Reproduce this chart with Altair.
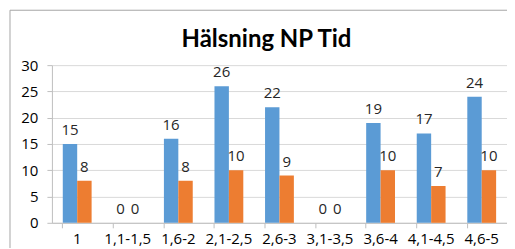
import altair as alt
import pandas as pd

categories = ["1", "1,1-1,5", "1,6-2", "2,1-2,5", "2,6-3", "3,1-3,5", "3,6-4", "4,1-4,5", "4,6-5"]
series_a = [15, 0, 16, 26, 22, 0, 19, 17, 24]
series_b = [8, 0, 8, 10, 9, 0, 10, 7, 10]
y_ticks = [0, 5, 10, 15, 20, 25, 30]
title_text = "Hälsning NP Tid"

rows = []
for c, a, b in zip(categories, series_a, series_b):
    rows.append({"cat": c, "series": "A", "value": a})
    rows.append({"cat": c, "series": "B", "value": b})
df = pd.DataFrame(rows)

x_enc = alt.X("cat:N", sort=categories, title=None,
              scale=alt.Scale(paddingInner=0.43, paddingOuter=0.215),
              axis=alt.Axis(labelAngle=0, labelFont="Open Sans", labelFontSize=15,
                            labelColor="#000000", labelPadding=4, tickSize=5,
                            tickColor="#bfbfbf", domainColor="#bfbfbf", grid=False,
                            bandPosition=0, labelOverlap=False))
y_enc = alt.Y("value:Q", title=None,
              scale=alt.Scale(domain=[0, 30], nice=False),
              axis=alt.Axis(values=y_ticks, labelFont="Open Sans", labelFontSize=15,
                            labelColor="#000000", labelPadding=9, tickSize=5,
                            tickColor="#bfbfbf", domainColor="#bfbfbf",
                            gridColor="#d9d9d9", labelOverlap=False))
xoff = alt.XOffset("series:N", scale=alt.Scale(paddingInner=0, paddingOuter=0))
color = alt.Color("series:N", legend=None,
                  scale=alt.Scale(domain=["A", "B"], range=["#5b9bd5", "#ed7d31"]))

bars = alt.Chart(df).mark_bar().encode(x=x_enc, y=y_enc, xOffset=xoff, color=color)
labels = alt.Chart(df).mark_text(baseline="alphabetic", dy=-9, font="Open Sans",
                                 fontSize=15, color="#262626").encode(
    x=x_enc, y=y_enc, xOffset=xoff, text="value:Q")

deco = pd.DataFrame({"t": [title_text]})
border = alt.Chart(deco).mark_rect(
    fill=None, stroke="#a6a6a6", strokeWidth=1, clip=False).encode(
    x=alt.value(-42), x2=alt.value(700), y=alt.value(-55), y2=alt.value(400))
title = alt.Chart(deco).mark_text(font="Lato", fontSize=24, fontWeight="bold",
                                  color="#000000", align="center",
                                  baseline="alphabetic").encode(
    x=alt.value(215), y=alt.value(-18), text="t:N")

chart = alt.layer(border, title, bars, labels).properties(
    width=456, height=158,
    autosize=alt.AutoSizeParams(type="none"),
    padding={"left": 44, "top": 57, "right": 0, "bottom": 25},
).configure_view(stroke=None)

chart.save("out.html", embed_options={"renderer": "svg", "actions": False})
